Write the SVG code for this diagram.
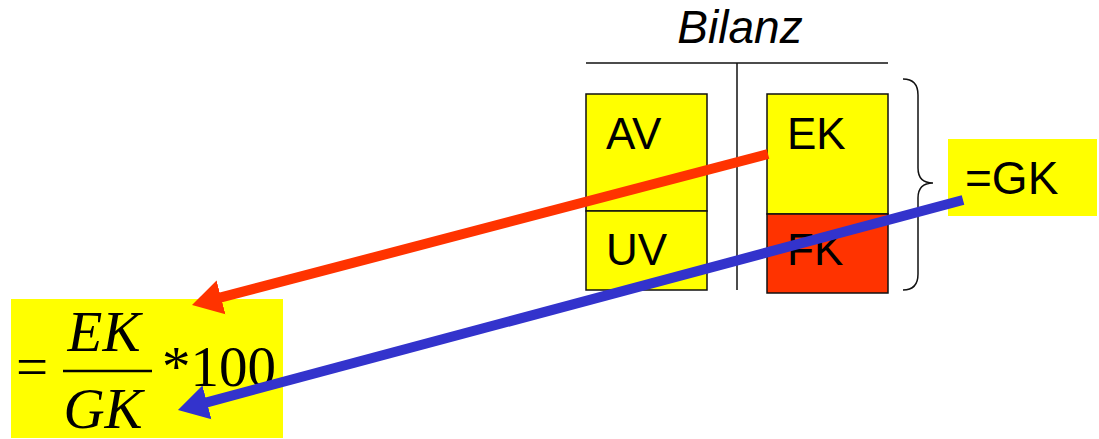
<svg xmlns="http://www.w3.org/2000/svg" width="1099" height="439" viewBox="0 0 1099 439">
  <style>
    .sans { font-family: "Liberation Sans", Arial, sans-serif; fill: #000; }
    .serif { font-family: "Liberation Serif", "Times New Roman", serif; fill: #000; }
    .cell { stroke: #111; stroke-width: 1.5; }
    .yellow { fill: #FFFF00; }
    .red { fill: #FF3300; }
    .rule { stroke: #111; stroke-width: 1.5; fill: none; }
    .lbl { font-size: 44px; }
  </style>
  <defs>
    <marker id="headRed" markerUnits="userSpaceOnUse" viewBox="0 -18 30 36" markerWidth="30" markerHeight="36" refX="2" refY="0" orient="auto">
      <path d="M0,-17.5 L30,0 L0,17.5 z" fill="#FF3300"/>
    </marker>
    <marker id="headBlue" markerUnits="userSpaceOnUse" viewBox="0 -18 30 36" markerWidth="30" markerHeight="36" refX="2" refY="0" orient="auto">
      <path d="M0,-17.5 L30,0 L0,17.5 z" fill="#3333CC"/>
    </marker>
  </defs>

  <rect width="1099" height="439" fill="#fff"/>

  <!-- balance sheet frame -->
  <g id="bilanz">
    <text class="sans" x="740" y="43" font-size="46" font-style="italic" text-anchor="middle">Bilanz</text>
    <line class="rule" x1="586" y1="63" x2="888" y2="63"/>
    <line class="rule" x1="737" y1="63" x2="737" y2="290"/>
  </g>

  <g id="av">
    <rect class="cell yellow" x="586" y="94" width="121" height="117"/>
    <text class="sans lbl" x="606" y="149">AV</text>
  </g>
  <g id="uv">
    <rect class="cell yellow" x="586" y="211" width="121" height="79"/>
    <text class="sans lbl" x="606" y="265">UV</text>
  </g>
  <g id="ek">
    <rect class="cell yellow" x="767" y="94" width="121" height="120"/>
    <text class="sans lbl" x="787" y="149">EK</text>
  </g>
  <g id="fk">
    <rect class="cell red" x="767" y="214" width="121" height="79"/>
    <text class="sans lbl" x="787" y="265">FK</text>
  </g>

  <!-- brace grouping EK + FK -->
  <g id="brace">
    <path class="rule" d="M903,79 Q918,79 918,95 L918,168 Q918,183 933,183 Q918,183 918,198 L918,274 Q918,290 903,290"/>
  </g>

  <g id="gk">
    <rect class="yellow" x="948" y="139" width="149" height="77"/>
    <text class="sans" x="965" y="194" font-size="46">=GK</text>
  </g>

  <!-- equity ratio formula -->
  <g id="formula">
    <rect class="yellow" x="11" y="299" width="272" height="139"/>
    <text class="serif" x="16" y="386" font-size="57">=</text>
    <text class="serif" x="104" y="351" font-size="57" font-style="italic" text-anchor="middle">EK</text>
    <line x1="63" y1="371" x2="152" y2="371" stroke="#000" stroke-width="2.5"/>
    <text class="serif" x="103" y="428" font-size="57" font-style="italic" text-anchor="middle">GK</text>
    <text class="serif" x="162" y="386" font-size="57">*100</text>
  </g>

  <g id="connectors">
    <line x1="768" y1="154" x2="219.1" y2="297.9" stroke="#FF3300" stroke-width="10" marker-end="url(#headRed)"/>
    <line x1="963" y1="200" x2="205" y2="402.8" stroke="#3333CC" stroke-width="10" marker-end="url(#headBlue)"/>
  </g>
</svg>
